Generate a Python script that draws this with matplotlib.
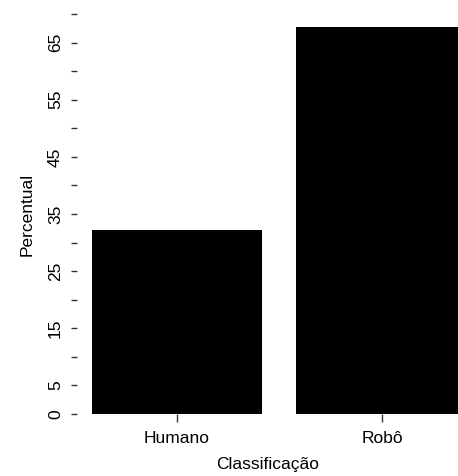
import matplotlib.pyplot as plt
import numpy as np

plt.rcParams['font.family'] = ['Liberation Sans', 'DejaVu Sans']

categories = ['Humano', 'Robô']
percent = [32.2, 67.8]
yticks = list(range(0, 75, 5))
ytick_labels = ['0', '5', '', '15', '', '25', '', '35', '', '45', '', '55', '', '65', '']

fig = plt.figure(figsize=(4.58, 4.76), dpi=100)
ax = fig.add_axes([0.1681, 0.1303, 0.8319, 0.8403])

x = np.arange(len(categories))
ax.bar(x, percent, width=0.834, color='black')

ax.set_xlim(-0.488, 1.371)
ax.set_ylim(0, 70)
for s in ax.spines.values():
    s.set_visible(False)

ax.set_xticks(x)
ax.set_xticklabels(categories, fontsize=12.5)
ax.set_yticks(yticks)
ax.set_yticklabels(ytick_labels, fontsize=12.5, rotation=90, va='center')
ax.tick_params(axis='x', length=6, width=1, pad=6, colors='#333333')
ax.tick_params(axis='y', length=4, width=1, pad=6, colors='#333333')
for lab in ax.get_xticklabels() + ax.get_yticklabels():
    lab.set_color('black')

ax.set_xlabel('Classificação', fontsize=12.5, labelpad=8)
ax.set_ylabel('Percentual', fontsize=12.5, labelpad=10)

fig.savefig('out.png', dpi=100)
